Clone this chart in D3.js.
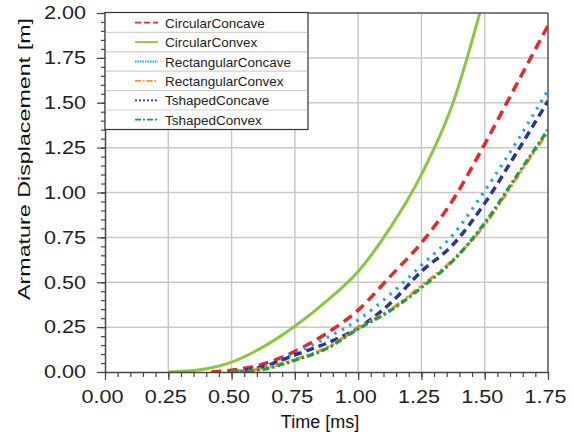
<!DOCTYPE html>
<html>
<head>
<meta charset="utf-8">
<script src="https://cdn.jsdelivr.net/npm/d3@7"></script>
<style>
  body { margin: 0; background: #fff; }
  svg { font-family: "Liberation Sans", Arial, sans-serif; }
</style>
</head>
<body>
<div id="chart"></div>
<script>
// values
var timeTicks = [0, 0.25, 0.5, 0.75, 1.0, 1.25, 1.5, 1.75];
var dispTicks = [0, 0.25, 0.5, 0.75, 1.0, 1.25, 1.5, 1.75, 2.0];

var circularConcaveT = [0.42, 0.5, 0.625, 0.75, 0.875, 1.0, 1.125, 1.25, 1.375, 1.5, 1.625, 1.75];
var circularConcaveV = [0, 0.01, 0.045, 0.115, 0.215, 0.345, 0.53, 0.72, 0.96, 1.27, 1.6, 1.93];

var circularConvexT = [0.25, 0.375, 0.5, 0.625, 0.75, 0.875, 1.0, 1.125, 1.25, 1.375, 1.5];
var circularConvexV = [0, 0.012, 0.055, 0.14, 0.255, 0.395, 0.56, 0.8, 1.1, 1.5, 2.1];

var rectConcaveT = [0.5, 0.625, 0.75, 0.875, 1.0, 1.125, 1.25, 1.375, 1.5, 1.625, 1.75];
var rectConcaveV = [0, 0.03, 0.105, 0.19, 0.29, 0.43, 0.595, 0.765, 1.01, 1.28, 1.57];

var rectConvexT = [0.5, 0.625, 0.75, 0.875, 1.0, 1.125, 1.25, 1.375, 1.5, 1.625, 1.75];
var rectConvexV = [0, 0.02, 0.07, 0.135, 0.245, 0.345, 0.48, 0.625, 0.82, 1.08, 1.34];

var tConcaveT = [0.5, 0.625, 0.75, 0.875, 1.0, 1.125, 1.25, 1.375, 1.5, 1.625, 1.75];
var tConcaveV = [0, 0.03, 0.095, 0.16, 0.245, 0.38, 0.56, 0.71, 0.94, 1.22, 1.51];

var tConvexT = [0.5, 0.625, 0.75, 0.875, 1.0, 1.125, 1.25, 1.375, 1.5, 1.625, 1.75];
var tConvexV = [0, 0.015, 0.065, 0.13, 0.24, 0.34, 0.47, 0.62, 0.83, 1.09, 1.35];

var seriesNames = ["CircularConcave", "CircularConvex", "RectangularConcave",
                   "RectangularConvex", "TshapedConcave", "TshapedConvex"];
var seriesT = [circularConcaveT, circularConvexT, rectConcaveT, rectConvexT, tConcaveT, tConvexT];
var seriesV = [circularConcaveV, circularConvexV, rectConcaveV, rectConvexV, tConcaveV, tConvexV];

// styles
var colors = ["#e8262b", "#8cc63e", "#22a6e0", "#f5922a", "#2b3592", "#1f9e4a"];
var plotDash = ["10,6", null, "2.5,6", "8,3,2.5,3,2.5,3", "8,5", "7,3,2.5,3"];
var plotWidth = [3.5, 3, 3.2, 3.2, 3.5, 3.2];
var legendDash = ["6,3", null, "1.5,1", "6,2,1.5,2", "2,2", "6,2,2,2"];

var width = 573, height = 436;
var pLeft = 105, pRight = 548, pTop = 13, pBottom = 372;

var svg = d3.select("#chart").append("svg")
  .attr("width", width)
  .attr("height", height);

var x = d3.scaleLinear().domain([0, 1.75]).range([pLeft, pRight]);
var y = d3.scaleLinear().domain([0, 2]).range([pBottom, pTop]);

// grid
var minorX = d3.range(0, 1.7501, 0.05);
var minorY = d3.range(0, 2.0001, 0.05);

svg.append("g")
  .selectAll("line")
  .data(timeTicks.slice(1, -1))
  .enter().append("line")
  .attr("x1", d => x(d)).attr("x2", d => x(d))
  .attr("y1", pTop).attr("y2", pBottom)
  .attr("stroke", "#c9c9c9").attr("stroke-width", 1.5);

svg.append("g")
  .selectAll("line")
  .data(dispTicks.slice(1, -1))
  .enter().append("line")
  .attr("x1", pLeft).attr("x2", pRight)
  .attr("y1", d => y(d)).attr("y2", d => y(d))
  .attr("stroke", "#c9c9c9").attr("stroke-width", 1.5);

// curves
svg.append("clipPath").attr("id", "clip")
  .append("rect")
  .attr("x", pLeft).attr("y", pTop)
  .attr("width", pRight - pLeft).attr("height", pBottom - pTop);

var line = d3.line()
  .x(d => x(d[0]))
  .y(d => y(d[1]))
  .curve(d3.curveMonotoneX);

var plot = svg.append("g").attr("clip-path", "url(#clip)");
var order = [1, 0, 2, 4, 3, 5];
order.forEach(function(i) {
  var pts = seriesT[i].map((t, k) => [t, seriesV[i][k]]);
  plot.append("path")
    .attr("d", line(pts))
    .attr("fill", "none")
    .attr("stroke", colors[i])
    .attr("stroke-width", plotWidth[i])
    .attr("stroke-dasharray", plotDash[i]);
});

// frame
svg.append("line")
  .attr("x1", pLeft).attr("x2", pRight)
  .attr("y1", pTop).attr("y2", pTop)
  .attr("stroke", "#555").attr("stroke-width", 1.5);
svg.append("line")
  .attr("x1", pRight).attr("x2", pRight)
  .attr("y1", pTop).attr("y2", pBottom)
  .attr("stroke", "#555").attr("stroke-width", 1.5);

// axes
var xMinor = svg.append("g")
  .attr("transform", "translate(0," + pBottom + ")")
  .call(d3.axisBottom(x).tickValues(minorX).tickSize(5).tickFormat(""));
xMinor.select(".domain").remove();

var xAxis = svg.append("g")
  .attr("transform", "translate(0," + pBottom + ")")
  .call(d3.axisBottom(x).tickValues(timeTicks).tickSize(8).tickSizeOuter(0)
    .tickPadding(10).tickFormat(d3.format(".2f")));

var yMinor = svg.append("g")
  .attr("transform", "translate(" + pLeft + ",0)")
  .call(d3.axisLeft(y).tickValues(minorY).tickSize(4).tickFormat(""));
yMinor.select(".domain").remove();

var yAxis = svg.append("g")
  .attr("transform", "translate(" + pLeft + ",0)")
  .call(d3.axisLeft(y).tickValues(dispTicks).tickSize(8).tickSizeOuter(0)
    .tickPadding(11).tickFormat(d3.format(".2f")));

svg.selectAll(".tick line").attr("stroke", "#444").attr("stroke-width", 1.2);
svg.selectAll(".domain").attr("stroke", "#444").attr("stroke-width", 1.5);

xAxis.selectAll("text")
  .attr("font-size", 18)
  .attr("fill", "#222")
  .attr("dx", -3)
  .attr("textLength", 42)
  .attr("lengthAdjust", "spacingAndGlyphs");

yAxis.selectAll("text")
  .attr("font-size", 18)
  .attr("fill", "#222")
  .attr("textLength", 42)
  .attr("lengthAdjust", "spacingAndGlyphs");

// axis titles
svg.append("text")
  .attr("x", 320).attr("y", 428)
  .attr("text-anchor", "middle")
  .attr("font-size", 18)
  .attr("fill", "#111")
  .text("Time [ms]");

svg.append("text")
  .attr("transform", "translate(30,159) rotate(-90)")
  .attr("text-anchor", "middle")
  .attr("font-size", 17)
  .attr("fill", "#111")
  .attr("textLength", 282)
  .attr("lengthAdjust", "spacingAndGlyphs")
  .text("Armature Displacement [m]");

// legend
var lgX = 105, lgY = 12.5, lgW = 203, lgH = 117, rowH = 19.4;
var legend = svg.append("g");
legend.append("rect")
  .attr("x", lgX).attr("y", lgY)
  .attr("width", lgW).attr("height", lgH)
  .attr("fill", "#fff")
  .attr("stroke", "#333").attr("stroke-width", 1.2);

legend.selectAll("line.sep")
  .data(d3.range(1, seriesNames.length))
  .enter().append("line")
  .attr("class", "sep")
  .attr("x1", lgX + 1).attr("x2", lgX + lgW - 1)
  .attr("y1", d => lgY + d * rowH + 0.5).attr("y2", d => lgY + d * rowH + 0.5)
  .attr("stroke", "#d0d0d0").attr("stroke-width", 1.2);

var rows = legend.selectAll("g.row")
  .data(seriesNames)
  .enter().append("g")
  .attr("class", "row")
  .attr("transform", (d, i) => "translate(0," + (lgY + i * rowH + rowH / 2 + 0.5) + ")");

rows.append("line")
  .attr("x1", 135).attr("x2", 158)
  .attr("stroke", (d, i) => colors[i])
  .attr("stroke-width", 1.8)
  .attr("stroke-dasharray", (d, i) => legendDash[i]);

rows.append("text")
  .attr("x", 165).attr("y", 5)
  .attr("font-size", 13.5)
  .attr("fill", "#222")
  .text(d => d);
</script>
</body>
</html>
